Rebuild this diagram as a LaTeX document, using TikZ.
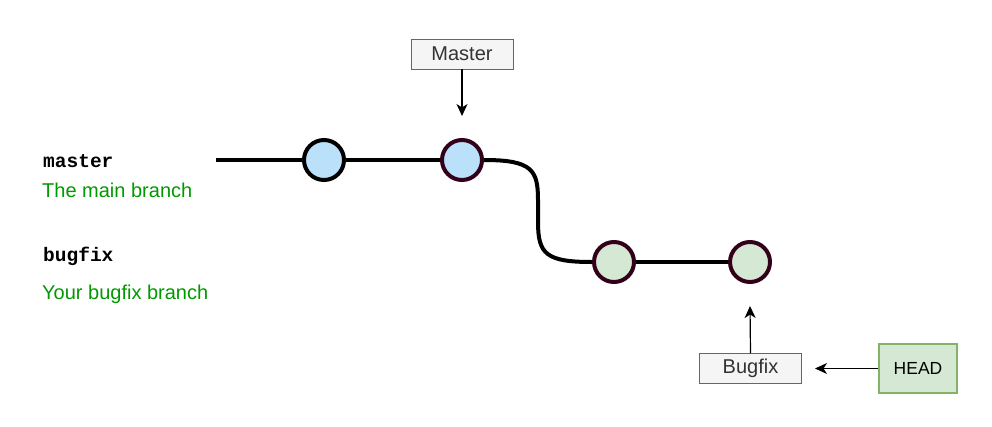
\documentclass[tikz,border=0pt]{standalone}
\usepackage{fontspec}
\setmainfont{Liberation Sans}
\newfontfamily\monofont{Liberation Mono}
\usetikzlibrary{arrows.meta}
\definecolor{cblue}{RGB}{187,225,250}
\definecolor{cgreen}{RGB}{213,232,212}
\definecolor{cgreenb}{RGB}{130,179,102}
\definecolor{maroon}{RGB}{51,0,26}
\definecolor{gboxfill}{RGB}{245,245,245}
\definecolor{gboxdraw}{RGB}{102,102,102}
\definecolor{labgreen}{RGB}{0,153,0}
\definecolor{tgray}{RGB}{51,51,51}
\tikzset{
  commit/.style={circle, minimum size=40pt, inner sep=0pt, line width=4pt},
  branchline/.style={line width=4pt},
  refbox/.style={draw=gboxdraw, fill=gboxfill, minimum width=102pt, minimum height=30pt, inner sep=0pt, font=\fontsize{20}{23}\selectfont, text=tgray},
  headbox/.style={draw=cgreenb, fill=cgreen, minimum width=78pt, minimum height=49pt, inner sep=0pt, font=\fontsize{17.5}{20}\selectfont, line width=1.2pt},
  ptr/.style={-{Stealth[length=12pt,width=11pt,inset=3.5pt]}, line width=1.2pt},
  codelab/.style={anchor=west, font=\monofont\bfseries\fontsize{19.5}{22}\selectfont, inner sep=0pt},
  desclab/.style={anchor=west, font=\fontsize{20}{23}\selectfont, text=labgreen, inner sep=0pt}
}
\begin{document}
\begin{tikzpicture}[x=1pt,y=-1pt]
\useasboundingbox (0,0) rectangle (992,426);
\coordinate (start) at (216,160);
\node[commit, draw=black, fill=cblue] (c1) at (324,160) {};
\node[commit, draw=maroon, fill=cblue] (c2) at (462,160) {};
\node[commit, draw=maroon, fill=cgreen] (c3) at (614,262) {};
\node[commit, draw=maroon, fill=cgreen] (c4) at (750,262) {};
\draw[branchline] (start) -- (c1.west);
\draw[branchline] (c1.east) -- (c2.west);
\draw[branchline] (c2.east) .. controls (532,160) and (538,170) .. (538,200) -- (538,222) .. controls (538,254) and (546,262) .. (c3.west);
\draw[branchline] (c3.east) -- (c4.west);
\node[refbox] (master) at (462,54) {Master};
\node[refbox] (bugfix) at (750.5,368.5) {Bugfix};
\node[headbox] (head) at (918,368.5) {HEAD};
\coordinate (mtip) at (462,116);
\coordinate (btip) at (750,306);
\coordinate (htip) at (815,368.5);
\draw[ptr] (master.south) -- (mtip);
\draw[ptr] (bugfix.north) -- (btip);
\draw[ptr] (head.west) -- (htip);
\node[codelab] (lmaster) at (43,161) {master};
\node[desclab] (ldmaster) at (42,190) {The main branch};
\node[codelab] (lbugfix) at (43,256) {bugfix};
\node[desclab] (ldbugfix) at (42,294) {Your bugfix branch};
\end{tikzpicture}
\end{document}
